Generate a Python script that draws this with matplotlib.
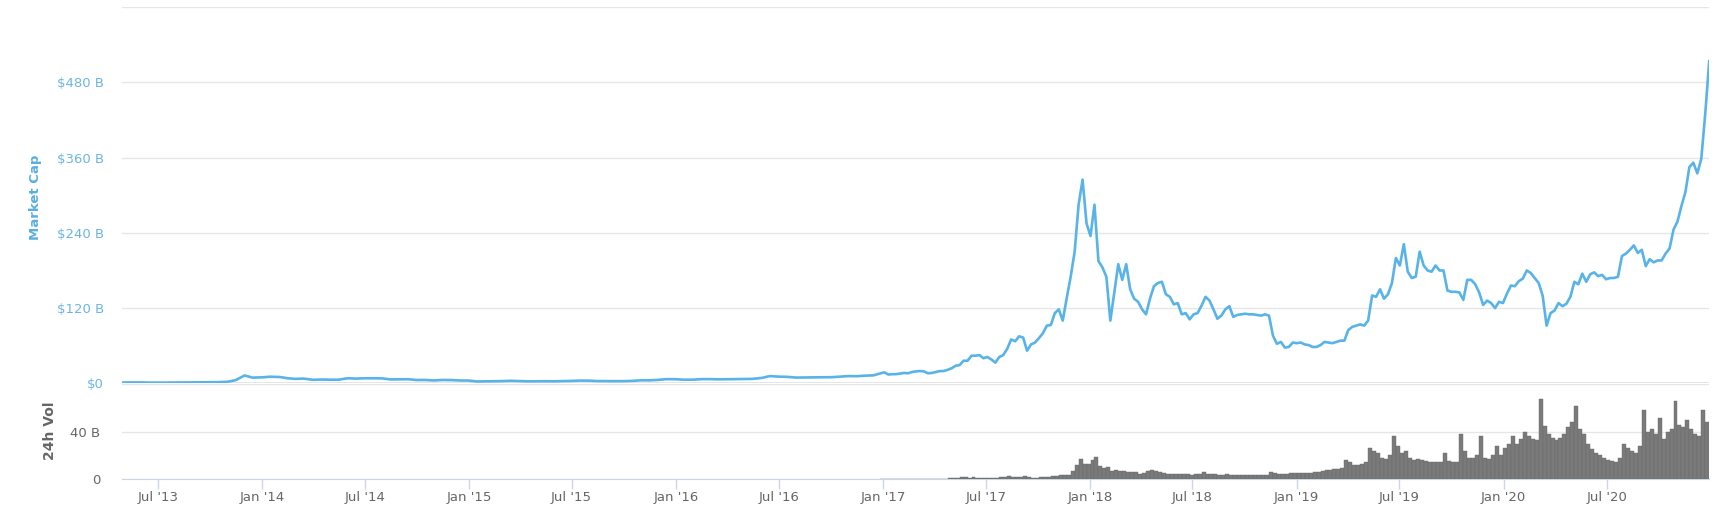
import pandas as pd
import matplotlib.pyplot as plt
import matplotlib.dates as mdates

# Market cap, billions USD
# 2013-2016: sampled on the 1st and 15th of each month
early_dates = pd.date_range('2013-05-01', '2016-12-15', freq='SMS')
early_cap = [
    1.3, 1.3, 1.4, 1.1, 1.0, 1.1, 1.2, 1.2, 1.6, 1.5, 1.5, 1.8, 2.4, 5.0, 12.5, 9.0,
    9.5, 10.5, 10.0, 8.0, 7.0, 7.5, 5.5, 6.0, 5.7, 5.7, 8.0, 7.5, 8.0, 8.0, 7.8, 6.2,
    6.3, 6.5, 5.2, 5.3, 4.5, 5.3, 5.1, 4.5,
    4.3, 2.9, 3.2, 3.3, 3.5, 4.0, 3.5, 3.1, 3.2, 3.3, 3.2, 3.4, 3.8, 4.3, 4.2, 3.6,
    3.4, 3.4, 3.4, 3.8, 4.8, 4.7, 5.4, 6.6,
    6.5, 5.7, 5.8, 6.6, 6.7, 6.3, 6.5, 6.6, 7.0, 7.0, 8.6, 11.5, 10.6, 10.3, 9.1, 9.3,
    9.5, 9.6, 9.7, 10.5, 11.5, 11.3, 12.2, 12.7,
]

# 2017-2020: weekly
late_dates = pd.date_range('2017-01-03', '2020-12-29', freq='7D')
late_cap = [
    # 2017
    17.5, 14.0, 14.5, 14.6, 15.5, 16.5, 16.0, 18.0, 19.0, 19.5, 19.0, 16.0, 16.5,
    18.0, 19.5, 19.5, 21.5, 24.0, 28.0, 29.0, 36.0, 36.0, 44.0, 44.0, 45.0, 40.0,
    42.0, 38.0, 33.0, 42.0, 45.0, 55.0, 70.0, 67.0, 75.0, 73.0, 52.0, 62.0, 65.0,
    72.0, 80.0, 92.0, 93.0, 112.0, 118.0, 100.0, 136.0, 170.0, 210.0, 285.0, 325.0, 255.0,
    # 2018
    235.0, 285.0, 195.0, 185.0, 170.0, 100.0, 145.0, 190.0, 165.0, 190.0, 150.0, 135.0, 130.0,
    118.0, 110.0, 135.0, 155.0, 160.0, 162.0, 142.0, 138.0, 126.0, 128.0, 110.0, 112.0, 102.0,
    110.0, 112.0, 124.0, 138.0, 132.0, 118.0, 103.0, 108.0, 118.0, 123.0, 106.0, 109.0, 110.0,
    111.0, 110.0, 110.0, 109.0, 108.0, 110.0, 108.0, 76.0, 63.0, 66.0, 57.0, 58.0, 65.0,
    # 2019
    64.0, 65.0, 62.0, 61.0, 58.0, 58.0, 61.0, 66.0, 65.0, 64.0, 66.0, 68.0, 68.0,
    85.0, 90.0, 92.0, 94.0, 92.0, 100.0, 140.0, 138.0, 150.0, 135.0, 142.0, 160.0, 200.0,
    188.0, 222.0, 178.0, 168.0, 170.0, 210.0, 188.0, 180.0, 178.0, 188.0, 180.0, 180.0, 148.0,
    146.0, 146.0, 145.0, 133.0, 165.0, 165.0, 158.0, 145.0, 125.0, 132.0, 128.0, 120.0, 130.0,
    128.0,
    # 2020
    143.0, 156.0, 155.0, 163.0, 167.0, 180.0, 176.0, 168.0, 160.0, 140.0, 92.0, 112.0, 116.0,
    128.0, 123.0, 127.0, 138.0, 162.0, 158.0, 175.0, 162.0, 174.0, 177.0, 171.0, 173.0, 166.0,
    168.0, 168.0, 170.0, 203.0, 207.0, 213.0, 220.0, 208.0, 213.0, 187.0, 198.0, 193.0, 196.0,
    196.0, 207.0, 215.0, 245.0, 258.0, 283.0, 305.0, 345.0, 352.0, 335.0, 358.0, 430.0, 514.0,
]

# 24h volume, billions USD, weekly from 2017
volume = [
    # 2017
    0.3, 0.2, 0.2, 0.2, 0.2, 0.2, 0.2, 0.2, 0.2, 0.3, 0.3, 0.3, 0.3,
    0.3, 0.3, 0.4, 0.4, 0.6, 0.8, 1.0, 1.5, 1.4, 1.2, 1.3, 1.2, 1.0,
    0.9, 0.8, 0.9, 1.0, 1.4, 1.8, 2.5, 1.8, 1.6, 1.8, 2.2, 1.3, 1.0,
    1.2, 1.6, 2.0, 1.8, 2.2, 2.5, 3.5, 3.0, 3.6, 7.0, 12.0, 17.0, 12.5,
    # 2018
    13.0, 16.0, 19.0, 11.0, 9.0, 10.0, 7.0, 7.5, 6.5, 6.5, 6.0, 5.5, 5.5,
    4.5, 5.0, 7.0, 8.0, 6.5, 5.5, 5.0, 4.5, 4.5, 4.5, 4.0, 4.0, 3.8,
    3.6, 3.8, 4.5, 5.5, 4.5, 4.0, 3.8, 3.5, 3.6, 3.8, 3.6, 3.4, 3.3,
    3.2, 3.1, 3.3, 3.2, 3.2, 3.3, 3.2, 5.5, 5.0, 4.5, 4.2, 4.6, 5.0,
    # 2019
    4.8, 5.0, 5.2, 5.0, 5.2, 5.5, 5.5, 7.0, 7.5, 8.0, 8.5, 8.5, 9.0,
    16.0, 14.0, 12.0, 12.0, 13.0, 14.0, 26.0, 24.0, 22.0, 18.0, 17.0, 20.0, 36.0,
    28.0, 22.0, 24.0, 18.0, 16.0, 17.0, 16.0, 15.0, 14.0, 14.0, 14.0, 14.0, 22.0,
    15.0, 14.0, 14.0, 38.0, 24.0, 18.0, 18.0, 20.0, 36.0, 18.0, 17.0, 20.0, 28.0,
    20.0,
    # 2020
    26.0, 30.0, 36.0, 30.0, 34.0, 40.0, 36.0, 34.0, 33.0, 68.0, 45.0, 38.0, 35.0,
    33.0, 35.0, 38.0, 44.0, 48.0, 62.0, 42.0, 38.0, 30.0, 25.0, 22.0, 20.0, 18.0,
    16.0, 15.0, 14.0, 18.0, 30.0, 26.0, 24.0, 22.0, 28.0, 58.0, 40.0, 42.0, 38.0,
    52.0, 34.0, 40.0, 42.0, 66.0, 46.0, 44.0, 50.0, 42.0, 38.0, 36.0, 58.0, 48.0,
]

cap_ticks = [0, 120, 240, 360, 480, 600]
cap_labels = ['$0', '$120 B', '$240 B', '$360 B', '$480 B', '']
vol_ticks = [0, 40, 80]
vol_labels = ['0', '40 B', '']

dates = early_dates.append(late_dates)
cap = early_cap + late_cap

blue = '#58b3e8'
grid = '#e6e6e6'

fig = plt.figure(figsize=(17.34, 5.27), dpi=100)
ax = fig.add_axes([0.0705, 0.2727, 0.9152, 0.7135])
axv = fig.add_axes([0.0705, 0.0911, 0.9152, 0.1795], sharex=ax)

ax.plot(dates, cap, color=blue, lw=1.9, zorder=3)
axv.bar(late_dates - pd.Timedelta(days=3.5), volume, width=7,
        color='#7a7a7a', edgecolor='#6a6a6a', linewidth=0.3, zorder=3)

ax.set_xlim(pd.Timestamp('2013-04-29'), pd.Timestamp('2020-12-29'))
ax.set_ylim(0, 600)
axv.set_ylim(0, 80)

ax.set_yticks(cap_ticks)
ax.set_yticklabels(cap_labels)
axv.set_yticks(vol_ticks)
axv.set_yticklabels(vol_labels)

for a in (ax, axv):
    a.grid(axis='y', color=grid, lw=1)
    a.set_axisbelow(True)
    for s in a.spines.values():
        s.set_visible(False)

ax.tick_params(axis='y', length=0, pad=13, labelsize=9.5, labelcolor='#6cb5e3')
ax.tick_params(axis='x', length=0, labelbottom=False)
ax.axhline(0, color='#e3e3e3', lw=2, zorder=2)

axv.tick_params(axis='y', length=0, pad=16, labelsize=9.5, labelcolor='#666666')
axv.spines['bottom'].set_visible(True)
axv.spines['bottom'].set_color('#ccd6eb')
axv.xaxis.set_major_locator(mdates.MonthLocator(bymonth=(1, 7)))
axv.xaxis.set_major_formatter(mdates.DateFormatter("%b '%y"))
axv.tick_params(axis='x', length=7, width=1, color='#ccd6eb', pad=1.5,
                labelsize=9.5, labelcolor='#666666')

fig.text(0.0205, 0.626, 'Market Cap', rotation=90, ha='center', va='center',
         fontsize=9.5, fontweight='bold', color='#5aaee0')
fig.text(0.029, 0.182, '24h Vol', rotation=90, ha='center', va='center',
         fontsize=10, fontweight='bold', color='#666666')

fig.savefig('out.png', dpi=100)
